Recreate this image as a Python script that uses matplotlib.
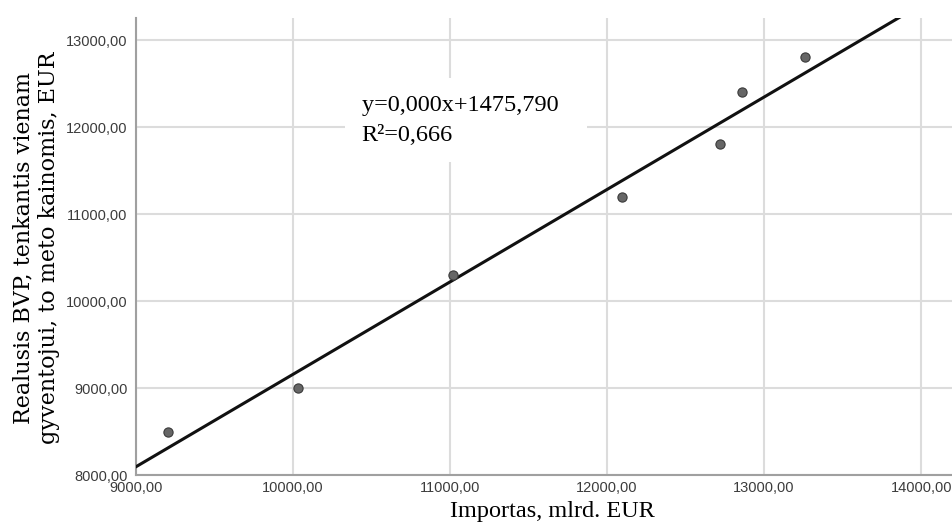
"""Realusis BVP vs importas: sklaidos diagrama su tiesine regresija"""
import numpy as np
import matplotlib.pyplot as plt
from matplotlib.ticker import FuncFormatter

# duomenys (nuskaityti nuo grafiko)
importas = [9206, 10030, 11021, 12097, 12720, 12861, 13261]
bvp = [8500, 9000, 10300, 11200, 11800, 12400, 12800]

x_ticks = [9000, 10000, 11000, 12000, 13000, 14000]
y_ticks = [8000, 9000, 10000, 11000, 12000, 13000]

eq_text = 'y=0,000x+1475,790  \nR²=0,666'
x_label = 'Importas, mlrd. EUR'
y_label = 'Realusis BVP, tenkantis vienam\ngyventojui, to meto kainomis, EUR'

serif = ['Liberation Serif', 'DejaVu Serif']
sans = ['Liberation Sans', 'DejaVu Sans']

fig = plt.figure(figsize=(9.52, 5.24), dpi=100)
# asis tesiasi siek tiek uz paveikslo krasto, kaip originale
ax = fig.add_axes([0.1429, 0.0935, 0.874, 0.872])

ax.set_xlim(9000, 14299)
ax.set_ylim(8000, 13253)

# regresijos tiese
k, b = np.polyfit(importas, bvp, 1)
xs = np.array([9000, 14299])
ax.plot(xs, k * xs + b, color='#111111', linewidth=2.2, zorder=3)

ax.scatter(importas, bvp, s=44, color='#666666', edgecolor='#3a3a3a',
           linewidth=0.8, zorder=4)

fmt = FuncFormatter(lambda v, p: f'{v:.2f}'.replace('.', ','))
ax.set_xticks(x_ticks)
ax.set_yticks(y_ticks)
ax.xaxis.set_major_formatter(fmt)
ax.yaxis.set_major_formatter(fmt)
ax.tick_params(length=0, labelsize=10.5, labelcolor='#3c3c3c')
ax.tick_params(axis='x', pad=4)
ax.tick_params(axis='y', pad=6)
for lab in ax.get_xticklabels() + ax.get_yticklabels():
    lab.set_family(sans)

ax.grid(True, color='#dcdcdc', linewidth=1.5)
ax.set_axisbelow(True)
for side in ['top', 'right']:
    ax.spines[side].set_visible(False)
for side in ['left', 'bottom']:
    ax.spines[side].set_color('#a0a0a0')
    ax.spines[side].set_linewidth(1.5)

fig.text(552 / 952, 1 - 511 / 524, x_label, fontsize=17.5, family=serif,
         ha='center', va='center')
fig.text(36 / 952, 1 - 248 / 524, y_label, fontsize=16,
         family=['DejaVu Serif'], rotation=90, ha='center', va='center',
         linespacing=1.2)

ax.text(10436, 12080, eq_text, fontsize=17.5, family=serif, va='center',
        ha='left', linespacing=1.55, zorder=5,
        bbox=dict(facecolor='white', edgecolor='none', pad=12))

fig.savefig('out.png', dpi=100)
